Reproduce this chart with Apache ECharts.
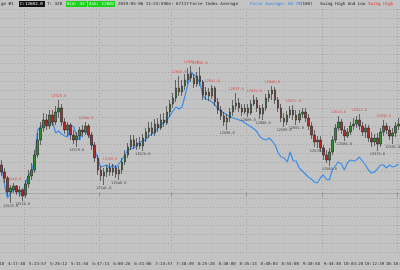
<!DOCTYPE html>
<html>
<head>
<meta charset="utf-8">
<script src="https://cdn.jsdelivr.net/npm/echarts@6/dist/echarts.min.js"></script>
<style>
html, body { margin: 0; padding: 0; background: #c3c3c3; }
#chart { width: 400px; height: 270px; }
</style>
</head>
<body>
<div id="chart"></div>
<script>
// price bars (one per bar, left to right)
const opens = [
    12561, 12554, 12548, 12534, 12536, 12540, 12534, 12536, 12531, 12542,
    12550, 12556, 12571, 12586, 12598, 12606, 12600, 12611, 12604, 12614,
    12618, 12604, 12596, 12601, 12591, 12586, 12590, 12596, 12594, 12600,
    12591, 12581, 12568, 12556, 12550, 12554, 12558, 12554, 12558, 12552,
    12556, 12564, 12571, 12579, 12586, 12580, 12583, 12580, 12588, 12594,
    12598, 12593, 12602, 12598, 12606, 12603, 12614, 12622, 12628, 12638,
    12634, 12640, 12646, 12652, 12648, 12642, 12650, 12644, 12631, 12634,
    12630, 12638, 12624, 12616, 12610, 12604, 12608, 12614, 12620, 12623,
    12618, 12614, 12618, 12613, 12622, 12626, 12618, 12612, 12618, 12628,
    12632, 12636, 12626, 12618, 12608, 12604, 12611, 12616, 12611, 12606,
    12612, 12614, 12608, 12600, 12591, 12584, 12586, 12578, 12571, 12566,
    12574, 12586, 12598, 12604, 12596, 12590, 12594, 12600, 12602, 12606,
    12600, 12594, 12598, 12588, 12584, 12588, 12582, 12594, 12600, 12596,
    12590, 12593, 12600
]
const closes = [
    12554, 12548, 12534, 12538, 12540, 12534, 12536, 12530, 12542, 12550,
    12556, 12571, 12586, 12598, 12606, 12600, 12611, 12604, 12614, 12618,
    12604, 12596, 12601, 12591, 12586, 12590, 12596, 12594, 12600, 12591,
    12581, 12568, 12556, 12550, 12554, 12558, 12554, 12558, 12552, 12556,
    12564, 12571, 12579, 12586, 12580, 12583, 12580, 12588, 12594, 12598,
    12593, 12602, 12598, 12606, 12603, 12614, 12622, 12628, 12638, 12634,
    12640, 12646, 12652, 12648, 12642, 12650, 12644, 12631, 12634, 12630,
    12638, 12624, 12616, 12610, 12604, 12608, 12614, 12620, 12623, 12618,
    12614, 12618, 12613, 12622, 12626, 12618, 12612, 12618, 12628, 12632,
    12636, 12626, 12618, 12608, 12604, 12611, 12616, 12611, 12606, 12612,
    12614, 12608, 12600, 12591, 12584, 12586, 12578, 12571, 12566, 12574,
    12586, 12598, 12604, 12596, 12590, 12594, 12600, 12602, 12606, 12600,
    12594, 12598, 12588, 12584, 12588, 12582, 12594, 12600, 12596, 12590,
    12593, 12600, 12602
]
const lows = [
    12550, 12543, 12530, 12523, 12533, 12531, 12529, 12525, 12528, 12538,
    12546, 12553, 12568, 12581, 12594, 12596, 12597, 12600, 12601, 12608,
    12600, 12592, 12590, 12586, 12582, 12579, 12586, 12589, 12591, 12588,
    12576, 12564, 12551, 12545, 12541, 12549, 12550, 12550, 12548, 12546,
    12552, 12561, 12568, 12576, 12577, 12576, 12577, 12575, 12584, 12588,
    12590, 12590, 12594, 12596, 12599, 12601, 12609, 12618, 12624, 12630,
    12630, 12636, 12642, 12644, 12638, 12639, 12640, 12626, 12626, 12625,
    12627, 12620, 12612, 12606, 12600, 12596, 12604, 12610, 12616, 12614,
    12610, 12612, 12609, 12611, 12620, 12614, 12607, 12606, 12615, 12624,
    12626, 12622, 12614, 12604, 12599, 12601, 12608, 12606, 12601, 12603,
    12608, 12604, 12596, 12587, 12579, 12578, 12574, 12566, 12563, 12560,
    12571, 12583, 12595, 12592, 12585, 12588, 12591, 12596, 12598, 12596,
    12590, 12588, 12584, 12579, 12580, 12575, 12579, 12590, 12592, 12586,
    12582, 12589, 12596
]
const highs = [
    12566, 12558, 12550, 12541, 12543, 12541, 12540, 12538, 12546, 12556,
    12563, 12576, 12593, 12604, 12613, 12612, 12616, 12616, 12620, 12626,
    12622, 12608, 12604, 12603, 12596, 12594, 12599, 12601, 12604, 12602,
    12594, 12584, 12571, 12560, 12558, 12561, 12563, 12562, 12561, 12560,
    12568, 12576, 12583, 12591, 12591, 12588, 12589, 12592, 12598, 12604,
    12604, 12607, 12608, 12612, 12613, 12620, 12626, 12633, 12646, 12650,
    12646, 12652, 12658, 12660, 12652, 12654, 12659, 12646, 12639, 12638,
    12641, 12640, 12628, 12620, 12614, 12612, 12618, 12626, 12633, 12628,
    12622, 12622, 12622, 12626, 12631, 12629, 12621, 12622, 12632, 12636,
    12640, 12639, 12629, 12622, 12613, 12615, 12620, 12621, 12616, 12616,
    12618, 12618, 12612, 12604, 12596, 12590, 12590, 12581, 12576, 12578,
    12590, 12602, 12610, 12607, 12600, 12598, 12604, 12608, 12610, 12612,
    12604, 12602, 12601, 12594, 12592, 12593, 12598, 12606, 12603, 12600,
    12598, 12604, 12608
]

// Force Index Average (100), one value per bar
const forceAvg = [
    57, 17, -9, 1, 7, 11, 1, -5, 21, 37,
    45, 67, 127, 133, 139, 147, 137, 143, 121, 125,
    119, 115, 113, 137, 133, 115, 107, 125, 123, 119,
    103, 87, 71, 53, 55, 57, 51, 57, 51, 59,
    67, 77, 87, 89, 91, 95, 103, 105, 107, 115,
    119, 123, 131, 137, 143, 147, 155, 165, 173, 169,
    173, 195, 219, 243, 237, 231, 221, 195, 189, 187,
    183, 177, 169, 165, 161, 157, 153, 151, 149, 147,
    145, 141, 137, 133, 129, 123, 113, 109, 107, 111,
    105, 97, 81, 73, 71, 63, 83, 65, 65, 51,
    45, 39, 33, 29, 23, 21, 31, 37, 29, 27,
    47, 55, 63, 59, 47, 61, 67, 65, 67, 73,
    65, 57, 47, 41, 43, 49, 57, 57, 51, 57,
    53, 55, 58.78
]

// swing high / low bars (index into the arrays above)
const swingHighIdx = [4, 19, 28, 36, 59, 63, 66, 70, 78, 84, 90, 97, 112, 119, 127]
const swingLowIdx = [3, 7, 25, 34, 39, 47, 75, 82, 87, 94, 98, 105, 109, 114, 125, 130]

// time labels under the chart, one every 7 bars
const tickLabels = [
    '3:55:18', '4:17:48', '5:23:57', '5:26:12', '5:31:54', '5:47:13', '6:00:26',
    '6:41:06', '7:24:57', '7:38:49', '8:25:28', '8:30:00', '8:35:13', '8:40:03',
    '8:55:00', '9:30:58', '9:44:40', '10:03:20', '10:12:39', '10:18:05'
]

const pad = 2            // bars hidden off the left edge
const vLines = [10, 35, 59, 84, 109, 134]
const mono = 'DejaVu Sans Mono'

const chart = echarts.init(document.getElementById('chart'), null, { renderer: 'canvas' })

const cats = []
for (let i = 0; i < opens.length + pad; i++) cats.push(String(i))

const candles = opens.map((o, i) => [i + pad, o, closes[i], lows[i], highs[i]])
const force = forceAvg.map((v, i) => [i + pad, v])
const highMarks = swingHighIdx.map(i => [i + pad, highs[i]])
const lowMarks = swingLowIdx.map(i => [i + pad, lows[i]])

const headText = (x, text, fill) => ({
    type: 'text', x: x, y: 1.5, z: 10,
    style: { text: text, fill: fill || '#1e1e1e', font: '4.2px ' + mono }
})

const option = {
    animation: false,
    backgroundColor: '#c3c3c3',
    grid: {
        left: -6, right: 0, top: 9, bottom: 18,
        containLabel: false,
        outerBoundsMode: 'none'
    },
    xAxis: {
        type: 'category',
        data: cats,
        boundaryGap: true,
        axisLine: { show: true, lineStyle: { color: '#a6a6a6', width: 1 } },
        axisTick: {
            show: true, length: 3,
            interval: (i) => vLines.includes(i),
            lineStyle: { color: '#8c8c8c' }
        },
        axisLabel: {
            interval: 6,
            margin: 10,
            color: '#2a2a2a',
            fontFamily: mono,
            fontSize: 4.1,
            hideOverlap: false,
            formatter: (v, i) => tickLabels[i / 7] || ''
        },
        splitLine: {
            show: true,
            interval: (i) => vLines.includes(i),
            lineStyle: { color: '#a2a2a2', type: [1, 2], width: 1 }
        }
    },
    yAxis: [
        {
            type: 'value',
            min: 12474,
            max: 12717,
            interval: 9,
            axisLine: { show: false },
            axisTick: { show: false },
            axisLabel: { show: false },
            splitLine: { lineStyle: { color: '#a6a6a6', type: [1, 2], width: 1 } }
        },
        {
            type: 'value',
            min: -117,
            max: 369,
            show: false,
            splitLine: { show: false }
        }
    ],
    series: [
        {
            name: 'Force Average',
            type: 'line',
            yAxisIndex: 1,
            data: force,
            showSymbol: false,
            lineStyle: { color: '#3b8ee8', width: 1.2 },
            z: 2
        },
        {
            name: 'Price',
            type: 'candlestick',
            data: candles,
            encode: { x: 0, y: [1, 2, 3, 4] },
            barWidth: 2,
            itemStyle: {
                color: '#2f8c2f',
                color0: '#b52626',
                borderColor: '#222',
                borderColor0: '#222',
                borderWidth: 0.6
            },
            z: 3
        },
        {
            name: 'Swing High',
            type: 'scatter',
            data: highMarks,
            symbolSize: 1,
            itemStyle: { color: 'rgba(0,0,0,0)' },
            label: {
                show: true, position: 'top', distance: 1,
                color: '#e23434', fontFamily: mono, fontSize: 3.6,
                formatter: p => p.value[1].toFixed(1)
            },
            z: 4
        },
        {
            name: 'Swing Low',
            type: 'scatter',
            data: lowMarks,
            symbolSize: 1,
            itemStyle: { color: 'rgba(0,0,0,0)' },
            label: {
                show: true, position: 'bottom', distance: 1,
                color: '#262626', fontFamily: mono, fontSize: 3.6,
                formatter: p => p.value[1].toFixed(1)
            },
            z: 4
        }
    ],
    graphic: [
        headText(1, 'ge #1'),
        { type: 'rect', shape: { x: 19, y: 1, width: 26, height: 6 }, style: { fill: '#111' }, z: 9 },
        headText(20, 'C:12602.0', '#f0f0f0'),
        headText(47, 'T: 328'),
        { type: 'rect', shape: { x: 66, y: 1, width: 21, height: 6 }, style: { fill: '#19d219' }, z: 9 },
        headText(67, 'Bid: 42', '#e8ffe8'),
        { type: 'rect', shape: { x: 88, y: 1, width: 27, height: 6 }, style: { fill: '#19d219' }, z: 9 },
        headText(89, 'Ask: 12602', '#e8ffe8'),
        headText(118, '2019-05-06 11:24:59'),
        headText(166, 'Dn: 67117'),
        headText(190, 'Force Index Average'),
        headText(250, 'Force Average: 58.78', '#2f86e6'),
        headText(300, '(100)'),
        headText(320, 'Swing High And Low'),
        headText(368, 'Swing High', '#e23434')
    ]
}

chart.setOption(option)
</script>
</body>
</html>
